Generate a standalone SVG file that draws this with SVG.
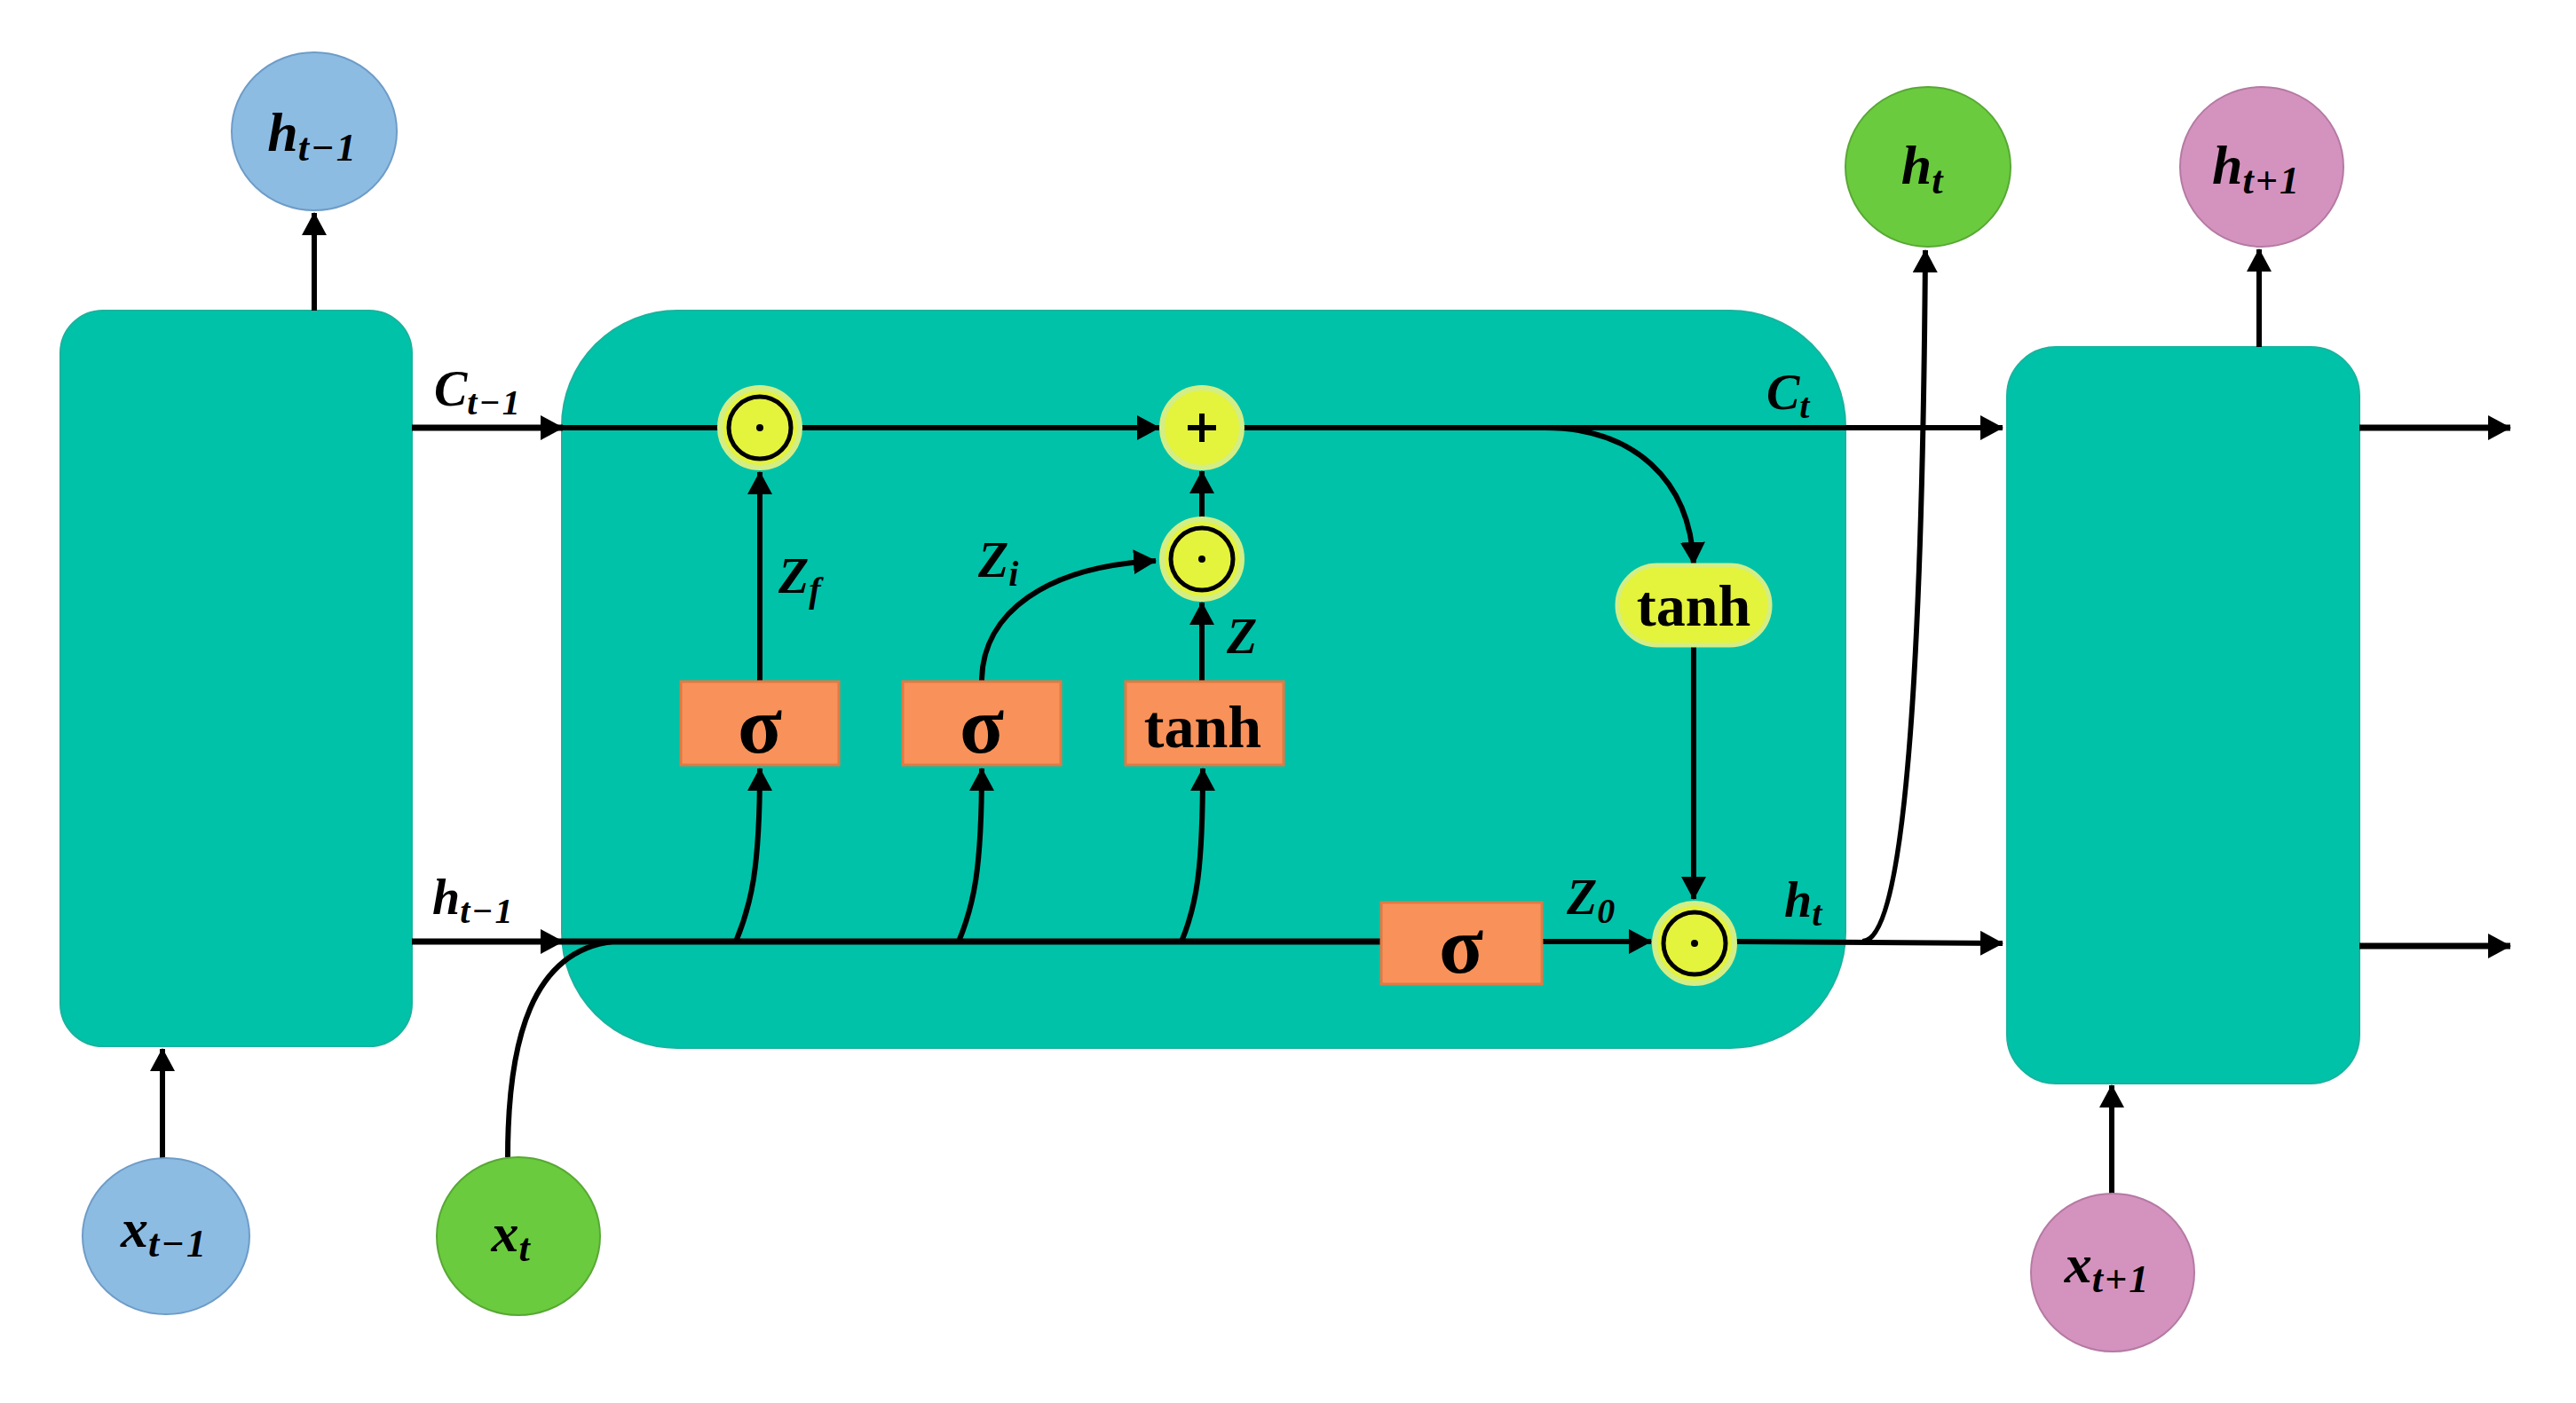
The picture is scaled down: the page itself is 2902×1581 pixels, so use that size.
<svg xmlns="http://www.w3.org/2000/svg" width="2902" height="1581" viewBox="0 0 2902 1581">
<style>
.cell{fill:#00C2A8;stroke:#19B39E;stroke-width:2}
.gate{fill:#F8925A;stroke:#E07A45;stroke-width:3}
.op{fill:#E4F33C;stroke:#D3EE86;stroke-width:6}
.ring{fill:none;stroke:#000;stroke-width:5}
.ln{fill:none;stroke:#000;stroke-width:6}
.thk{fill:none;stroke:#000;stroke-width:7}
.m{font-family:"Liberation Serif",serif;font-weight:bold;font-style:italic;fill:#000}
.cl{font-size:62px}
.el{font-size:56px}
.sc{font-size:44px;letter-spacing:2px}
.se{font-size:40px;letter-spacing:2px}
.g{font-family:"Liberation Serif",serif;font-weight:bold;fill:#000;text-anchor:middle}
</style>
<defs>
<marker id="ah" viewBox="0 0 26 28" refX="25" refY="14" markerWidth="26" markerHeight="28" markerUnits="userSpaceOnUse" orient="auto">
<path d="M0,0 L26,14 L0,28 z" fill="#000"/>
</marker>
</defs>
<rect width="2902" height="1581" fill="#fff"/>

<g id="cell-prev"><rect class="cell" x="68" y="350" width="396" height="829" rx="48"/></g>
<g id="cell-main"><rect class="cell" x="633" y="350" width="1446" height="831" rx="130"/></g>
<g id="cell-next"><rect class="cell" x="2261" y="391" width="397" height="830" rx="55"/></g>

<g id="connectors">
<path class="ln" d="M354,350 L354,240" marker-end="url(#ah)"/>
<path class="ln" d="M183,1305 L183,1182" marker-end="url(#ah)"/>
<path class="thk" d="M464,482 L634,482" marker-end="url(#ah)"/>
<path class="ln" d="M634,482 L810,482"/>
<path class="ln" d="M903,482 L1306,482" marker-end="url(#ah)"/>
<path class="ln" d="M1401,482 L2256,482" marker-end="url(#ah)"/>
<path class="ln" d="M1740,482 C1840,482 1904,540 1908,636" marker-end="url(#ah)"/>
<path class="thk" d="M2658,482 L2828,482" marker-end="url(#ah)"/>
<path class="thk" d="M464,1061 L634,1061" marker-end="url(#ah)"/>
<path class="thk" d="M634,1061 L1556,1061"/>
<path class="ln" d="M572,1304 C572,1170 600,1072 690,1061"/>
<path class="ln" d="M829,1061 C846,1020 856,980 856,866" marker-end="url(#ah)"/>
<path class="ln" d="M1080,1061 C1097,1020 1106,980 1106,866" marker-end="url(#ah)"/>
<path class="ln" d="M1331,1061 C1348,1020 1355,980 1355,866" marker-end="url(#ah)"/>
<path class="ln" d="M856,768 L856,532" marker-end="url(#ah)"/>
<path class="ln" d="M1106,768 C1106,690 1180,638 1302,632" marker-end="url(#ah)"/>
<path class="ln" d="M1354,768 L1354,679" marker-end="url(#ah)"/>
<path class="ln" d="M1354,583 L1354,531" marker-end="url(#ah)"/>
<path class="ln" d="M1908,727 L1908,1013" marker-end="url(#ah)"/>
<path class="ln" d="M1737,1061 L1860,1061" marker-end="url(#ah)"/>
<path class="ln" d="M1956,1061 L2256,1063" marker-end="url(#ah)"/>
<path class="ln" d="M2098,1061 C2150,1060 2166,700 2169,282" marker-end="url(#ah)"/>
<path class="ln" d="M2545,391 L2545,281" marker-end="url(#ah)"/>
<path class="ln" d="M2379,1345 L2379,1223" marker-end="url(#ah)"/>
<path class="thk" d="M2658,1066 L2828,1066" marker-end="url(#ah)"/>
</g>

<g id="forget-mul"><circle class="op" cx="856" cy="482" r="45"/><circle class="ring" cx="856" cy="482" r="35"/><circle cx="856" cy="482" r="4"/></g>
<g id="add"><circle class="op" cx="1354" cy="482" r="45"/><path d="M1338,482 H1370 M1354,466 V498" stroke="#000" stroke-width="6"/></g>
<g id="input-mul"><circle class="op" cx="1354" cy="630" r="45"/><circle class="ring" cx="1354" cy="630" r="35"/><circle cx="1354" cy="630" r="4"/></g>
<g id="output-mul"><circle class="op" cx="1909" cy="1063" r="45"/><circle class="ring" cx="1909" cy="1063" r="35"/><circle cx="1909" cy="1063" r="4"/></g>

<g id="sigma-f"><rect class="gate" x="767" y="768" width="178" height="94"/><text class="g" x="856" y="848" font-size="92">σ</text></g>
<g id="sigma-i"><rect class="gate" x="1017" y="768" width="178" height="94"/><text class="g" x="1106" y="848" font-size="92">σ</text></g>
<g id="tanh-g"><rect class="gate" x="1268" y="768" width="178" height="94"/><text class="g" x="1355" y="842" font-size="68">tanh</text></g>
<g id="sigma-o"><rect class="gate" x="1556" y="1017" width="181" height="92"/><text class="g" x="1646" y="1096" font-size="92">σ</text></g>
<g id="tanh-c"><rect x="1822" y="637" width="172" height="90" rx="45" fill="#E4F33C" stroke="#D3EE86" stroke-width="5"/><text class="g" x="1908" y="705" font-size="66">tanh</text></g>

<g id="h-prev"><ellipse cx="354" cy="148" rx="93" ry="89" fill="#8DBCE3" stroke="#6E9CC8" stroke-width="2"/><text class="m cl" x="352" y="170" text-anchor="middle">h<tspan class="sc" dy="11">t−1</tspan></text></g>
<g id="x-prev"><ellipse cx="187" cy="1393" rx="94" ry="88" fill="#8DBCE3" stroke="#6E9CC8" stroke-width="2"/><text class="m cl" x="185" y="1405" text-anchor="middle">x<tspan class="sc" dy="11">t−1</tspan></text></g>
<g id="x-cur"><ellipse cx="584" cy="1393" rx="92" ry="89" fill="#6BCB3E" stroke="#58A835" stroke-width="2"/><text class="m cl" x="576" y="1410" text-anchor="middle">x<tspan class="sc" dy="11">t</tspan></text></g>
<g id="h-cur"><ellipse cx="2172" cy="188" rx="93" ry="90" fill="#6BCB3E" stroke="#58A835" stroke-width="2"/><text class="m cl" x="2166" y="207" text-anchor="middle">h<tspan class="sc" dy="11">t</tspan></text></g>
<g id="h-next"><ellipse cx="2548" cy="188" rx="92" ry="90" fill="#D493BE" stroke="#B57AA3" stroke-width="2"/><text class="m cl" x="2542" y="207" text-anchor="middle">h<tspan class="sc" dy="11">t+1</tspan></text></g>
<g id="x-next"><ellipse cx="2380" cy="1434" rx="92" ry="89" fill="#D493BE" stroke="#B57AA3" stroke-width="2"/><text class="m cl" x="2374" y="1445" text-anchor="middle">x<tspan class="sc" dy="11">t+1</tspan></text></g>

<g id="labels">
<text class="m el" x="489" y="457">C<tspan class="se" dy="10">t−1</tspan></text>
<text class="m el" x="487" y="1030">h<tspan class="se" dy="10">t−1</tspan></text>
<text class="m el" x="1990" y="461">C<tspan class="se" dy="10">t</tspan></text>
<text class="m el" x="877" y="668">Z<tspan class="se" dy="10">f</tspan></text>
<text class="m el" x="1102" y="650">Z<tspan class="se" dy="10">i</tspan></text>
<text class="m el" x="1382" y="736">Z</text>
<text class="m el" x="1765" y="1030">Z<tspan class="se" dy="10">0</tspan></text>
<text class="m el" x="2010" y="1033">h<tspan class="se" dy="10">t</tspan></text>
</g>
</svg>
